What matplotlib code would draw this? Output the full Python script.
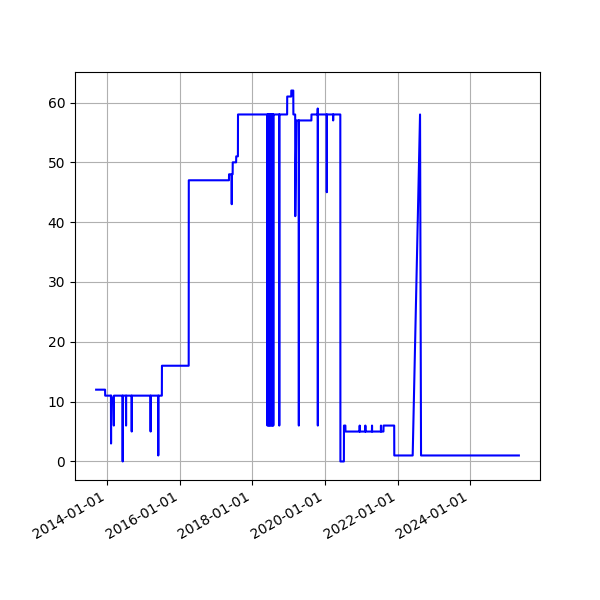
import pandas as pd
import matplotlib
matplotlib.use('Agg')
import matplotlib.pyplot as plt
import matplotlib.dates as mdates

# level changes (date, value)
dates = [
    '2013-09-13', '2013-12-12', '2013-12-13',
    '2014-02-09', '2014-02-10', '2014-02-11', '2014-02-25', '2014-03-05', '2014-03-10', '2014-03-11',
    '2014-06-06', '2014-06-07', '2014-06-08',
    '2014-07-10', '2014-07-11', '2014-07-12',
    '2014-09-05', '2014-09-06', '2014-09-07',
    '2015-03-14', '2015-03-15', '2015-03-16',
    '2015-05-30', '2015-05-31', '2015-06-01',
    '2015-07-06', '2015-07-07',
    '2016-04-01', '2016-04-02',
    '2017-05-11', '2017-05-12', '2017-06-07', '2017-06-08', '2017-06-09',
    '2017-06-17', '2017-06-18', '2017-07-22', '2017-07-23', '2017-08-09', '2017-08-10',
    '2018-06-01', '2018-06-02', '2018-06-03',
    '2018-06-10', '2018-06-11', '2018-06-12',
    '2018-06-18', '2018-06-19', '2018-06-20',
    '2018-06-26', '2018-06-27', '2018-06-28',
    '2018-07-05', '2018-07-06', '2018-07-07',
    '2018-07-14', '2018-07-15', '2018-07-16',
    '2018-07-23', '2018-07-24', '2018-07-25',
    '2018-07-30', '2018-07-31', '2018-08-01',
    '2018-09-28', '2018-09-29', '2018-09-30',
    '2018-12-17', '2018-12-18', '2019-01-27', '2019-01-28', '2019-02-17', '2019-02-18',
    '2019-03-08', '2019-03-09', '2019-03-20',
    '2019-04-13', '2019-04-14', '2019-04-15',
    '2019-08-18', '2019-08-19',
    '2019-10-20', '2019-10-21', '2019-10-22', '2019-10-23',
    '2020-01-19', '2020-01-20', '2020-01-21',
    '2020-03-23', '2020-03-24', '2020-03-25',
    '2020-06-04', '2020-06-05', '2020-07-10', '2020-07-11', '2020-07-25', '2020-07-26',
    '2020-12-15', '2020-12-16', '2020-12-17',
    '2021-02-10', '2021-02-11', '2021-02-12',
    '2021-04-18', '2021-04-19', '2021-04-20',
    '2021-07-17', '2021-07-18', '2021-07-19',
    '2021-08-12', '2021-08-13', '2021-11-28', '2021-11-29',
    '2022-06-02', '2022-08-15', '2022-08-25',
    '2025-05-05',
]
values = [
    12, 12, 11,
    11, 3, 11, 10, 10, 6, 11,
    11, 0, 11,
    11, 6, 11,
    11, 5, 11,
    11, 5, 11,
    11, 1, 11,
    11, 16,
    16, 47,
    47, 48, 48, 43, 48,
    48, 50, 50, 51, 51, 58,
    58, 6, 58,
    58, 6, 58,
    58, 6, 58,
    58, 6, 58,
    58, 6, 58,
    58, 6, 58,
    58, 6, 58,
    58, 6, 58,
    58, 6, 58,
    58, 61, 61, 62, 62, 58,
    58, 41, 57,
    57, 6, 57,
    57, 58,
    58, 59, 6, 58,
    58, 45, 58,
    58, 57, 58,
    58, 0, 0, 6, 6, 5,
    5, 6, 5,
    5, 6, 5,
    5, 6, 5,
    5, 6, 5,
    5, 6, 6, 1,
    1, 58, 1,
    1,
]

x = pd.to_datetime(dates)

fig, ax = plt.subplots(figsize=(6, 6), dpi=100)
ax.plot(x, values, color='blue')
ax.grid(True)
ax.xaxis.set_major_locator(mdates.YearLocator(2))
ax.xaxis.set_major_formatter(mdates.DateFormatter('%Y-%m-%d'))
fig.autofmt_xdate()
plt.savefig('out.png')
